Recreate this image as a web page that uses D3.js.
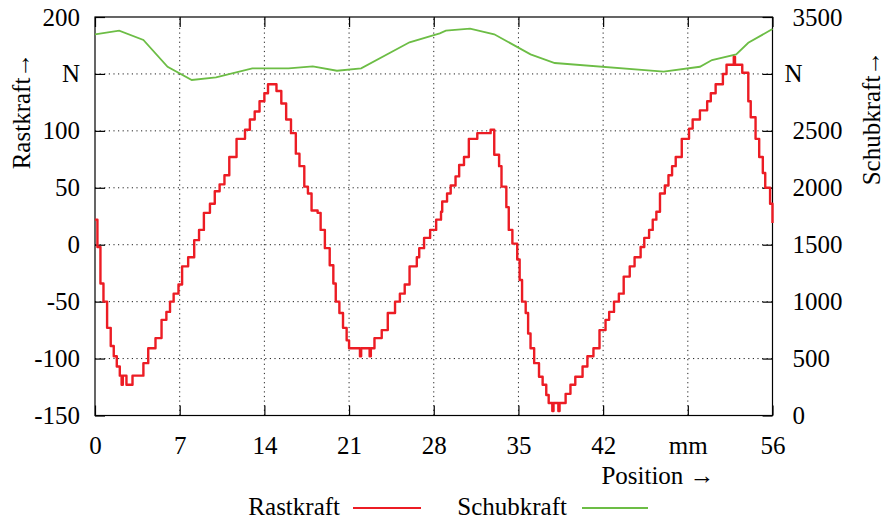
<!DOCTYPE html>
<html>
<head>
<meta charset="utf-8">
<script src="https://cdn.jsdelivr.net/npm/d3@7"></script>
<style>
  body { margin: 0; background: #fff; }
  svg text { font-family: "Liberation Serif", "Times New Roman", Tinos, "Noto Serif", "DejaVu Serif", serif !important; fill: #000; }
</style>
</head>
<body>
<div id="chart"></div>
<script>
// Rastkraft (left axis, N) -- position in mm, force in N
const rastX = [0, 0.2, 0.45, 0.7, 1.0, 1.3, 1.55, 1.8, 2.05, 2.2, 2.3, 2.6, 3.0, 3.1, 4.0, 4.4, 5.0, 5.5, 5.9, 6.2,
  6.5, 6.9, 7.2, 7.7, 8.2, 8.6, 9.0, 9.5, 9.9, 10.3, 10.7, 11.1, 11.7, 12.4, 12.8, 13.2, 13.6, 14.0, 14.3, 15.0,
  15.4, 15.8, 16.2, 16.6, 16.9, 17.3, 17.6, 17.9, 18.4, 18.65, 19.0, 19.4, 19.7, 19.9, 20.2, 20.5, 20.8, 21.0, 21.9, 22.0,
  22.7, 22.8, 23.1, 23.7, 24.2, 24.8, 25.2, 25.6, 26.0, 26.6, 26.8, 27.2, 27.7, 28.2, 28.6, 28.7, 29.1, 29.4, 29.8, 30.1,
  30.5, 30.9, 31.6, 32.7, 33.0, 33.4, 33.6, 34.0, 34.2, 34.5, 34.9, 35.1, 35.3, 35.6, 35.8, 36.0, 36.3, 36.7, 37.0, 37.3,
  37.5, 37.8, 37.9, 38.3, 38.4, 38.9, 39.3, 39.7, 40.3, 40.7, 41.2, 41.7, 42.2, 42.5, 42.9, 43.3, 43.7, 44.2, 44.6, 45.1,
  45.4, 45.8, 46.1, 46.4, 46.7, 47.1, 47.4, 47.7, 48.0, 48.5, 49.1, 49.4, 50.0, 50.6, 50.9, 51.3, 51.9, 52.2, 52.8, 52.9,
  53.5, 54.0, 54.2, 54.6, 54.9, 55.2, 55.4, 55.8, 56.0];
const rastY = [22, -2, -34, -50, -73, -89, -98, -107, -115, -123, -115, -123, -123, -115, -104, -91, -82, -66, -59, -50,
  -43, -35, -19, -11, 4, 13, 28, 36, 47, 53, 61, 77, 93, 101, 110, 117, 126, 133, 141, 135,
  124, 110, 98, 80, 69, 51, 45, 30, 28, 13, -3, -18, -34, -50, -60, -73, -84, -91, -98, -91,
  -98, -91, -82, -75, -60, -50, -43, -35, -19, -11, -3, 6, 13, 22, 29, 38, 45, 52, 60, 70,
  77, 93, 98, 101, 79, 69, 51, 33, 13, 1, -13, -31, -50, -60, -78, -91, -104, -116, -123, -132,
  -139, -146, -139, -146, -139, -131, -123, -116, -107, -98, -91, -75, -66, -59, -50, -43, -28, -19, -11, -2,
  6, 13, 22, 29, 45, 52, 61, 69, 77, 93, 102, 110, 118, 126, 133, 141, 150, 158, 165, 158,
  151, 126, 112, 93, 77, 63, 50, 36, 19];

// Schubkraft (right axis, N)
const schubX = [0, 2, 4, 6, 8, 10, 13, 16, 18, 20, 22, 26, 28.5, 29, 31, 33, 36, 38, 47, 50, 51, 53, 54, 56];
const schubY = [3348, 3380, 3298, 3063, 2947, 2970, 3049, 3049, 3067, 3028, 3049, 3278, 3357, 3380, 3397, 3348, 3172, 3096, 3020, 3063, 3122, 3172, 3274, 3394];

const xTicks = [0, 7, 14, 21, 28, 35, 42, 49, 56];
const xTickLabels = ["0", "7", "14", "21", "28", "35", "42", "mm", "56"];
const yTicks = [-150, -100, -50, 0, 50, 100, 150, 200];
const yTickLabels = ["-150", "-100", "-50", "0", "50", "100", "N", "200"];
const y2Ticks = [0, 500, 1000, 1500, 2000, 2500, 3000, 3500];
const y2TickLabels = ["0", "500", "1000", "1500", "2000", "2500", "N", "3500"];

const width = 885, height = 522;
const margin = { top: 17, right: 112.5, bottom: 106.5, left: 95 };
const fs = 25;

const svg = d3.select("#chart").append("svg")
  .attr("width", width)
  .attr("height", height);

const x = d3.scaleLinear().domain([0, 56]).range([margin.left, width - margin.right]);
const y = d3.scaleLinear().domain([-150, 200]).range([height - margin.bottom, margin.top]);
const y2 = d3.scaleLinear().domain([0, 3500]).range([height - margin.bottom, margin.top]);

// grid
const grid = svg.append("g")
  .attr("stroke", "#222")
  .attr("stroke-width", 1)
  .attr("stroke-dasharray", "1.2,3.4");
grid.selectAll(".gx").data(xTicks.slice(1, -1)).enter().append("line")
  .attr("x1", d => x(d)).attr("x2", d => x(d))
  .attr("y1", y(-150)).attr("y2", y(200));
grid.selectAll(".gy").data(yTicks.slice(1, -1)).enter().append("line")
  .attr("y1", d => y(d)).attr("y2", d => y(d))
  .attr("x1", x(0)).attr("x2", x(56));

// axes, ticks pointing inward like gnuplot
const xAxis = svg.append("g")
  .attr("transform", `translate(0,${y(-150)})`)
  .call(d3.axisBottom(x).tickValues(xTicks).tickSizeInner(-10).tickSizeOuter(0).tickPadding(21)
    .tickFormat((d, i) => xTickLabels[i]));
const xTop = svg.append("g")
  .attr("transform", `translate(0,${y(200)})`)
  .call(d3.axisTop(x).tickValues(xTicks).tickSizeInner(-10).tickSizeOuter(0).tickFormat(""));
const yAxis = svg.append("g")
  .attr("transform", `translate(${x(0)},0)`)
  .call(d3.axisLeft(y).tickValues(yTicks).tickSizeInner(-10).tickSizeOuter(0).tickPadding(15)
    .tickFormat((d, i) => yTickLabels[i]));
const y2Axis = svg.append("g")
  .attr("transform", `translate(${x(56)},0)`)
  .call(d3.axisRight(y2).tickValues(y2Ticks).tickSizeInner(-10).tickSizeOuter(0).tickPadding(20)
    .tickFormat((d, i) => y2TickLabels[i]));

[xAxis, xTop, yAxis, y2Axis].forEach(g => {
  g.attr("font-family", null);
  g.select(".domain").remove();
  g.selectAll(".tick line").attr("stroke", "#000").attr("stroke-width", 1.2);
  g.selectAll(".tick text").style("font-size", fs + "px");
});
y2Axis.selectAll(".tick text").filter(d => d === 3000).attr("x", 12);

svg.append("rect")
  .attr("x", x(0)).attr("y", y(200))
  .attr("width", x(56) - x(0)).attr("height", y(-150) - y(200))
  .attr("fill", "none").attr("stroke", "#000").attr("stroke-width", 1.2);

// data lines
const rast = rastX.map((d, i) => [d, rastY[i]]);
const schub = schubX.map((d, i) => [d, schubY[i]]);

svg.append("path")
  .datum(schub)
  .attr("fill", "none")
  .attr("stroke", "#6cbd45")
  .attr("stroke-width", 1.8)
  .attr("d", d3.line().x(d => x(d[0])).y(d => y2(d[1])));

svg.append("path")
  .datum(rast)
  .attr("fill", "none")
  .attr("stroke", "#ec1c24")
  .attr("stroke-width", 2.4)
  .attr("stroke-linejoin", "round")
  .attr("d", d3.line().curve(d3.curveStepAfter).x(d => x(d[0])).y(d => y(d[1])));

// axis titles
svg.append("text")
  .attr("transform", "translate(30,111) rotate(-90)")
  .attr("text-anchor", "middle")
  .style("font-size", fs + "px")
  .text("Rastkraft\u2192");
svg.append("text")
  .attr("transform", "translate(880,118) rotate(-90)")
  .attr("text-anchor", "middle")
  .style("font-size", fs + "px")
  .text("Schubkraft\u2192");
svg.append("text")
  .attr("x", 658).attr("y", 484)
  .attr("text-anchor", "middle")
  .style("font-size", fs + "px")
  .text("Position \u2192");

// legend
const legend = [
  { name: "Rastkraft", color: "#ec1c24", textEnd: 340, x1: 353, x2: 421 },
  { name: "Schubkraft", color: "#6cbd45", textEnd: 567, x1: 582, x2: 648 }
];
const lg = svg.append("g");
legend.forEach(l => {
  lg.append("text").attr("x", l.textEnd).attr("y", 515)
    .attr("text-anchor", "end").style("font-size", fs + "px").text(l.name);
  lg.append("line").attr("x1", l.x1).attr("x2", l.x2).attr("y1", 508).attr("y2", 508)
    .attr("stroke", l.color).attr("stroke-width", 1.8);
});
</script>
</body>
</html>
